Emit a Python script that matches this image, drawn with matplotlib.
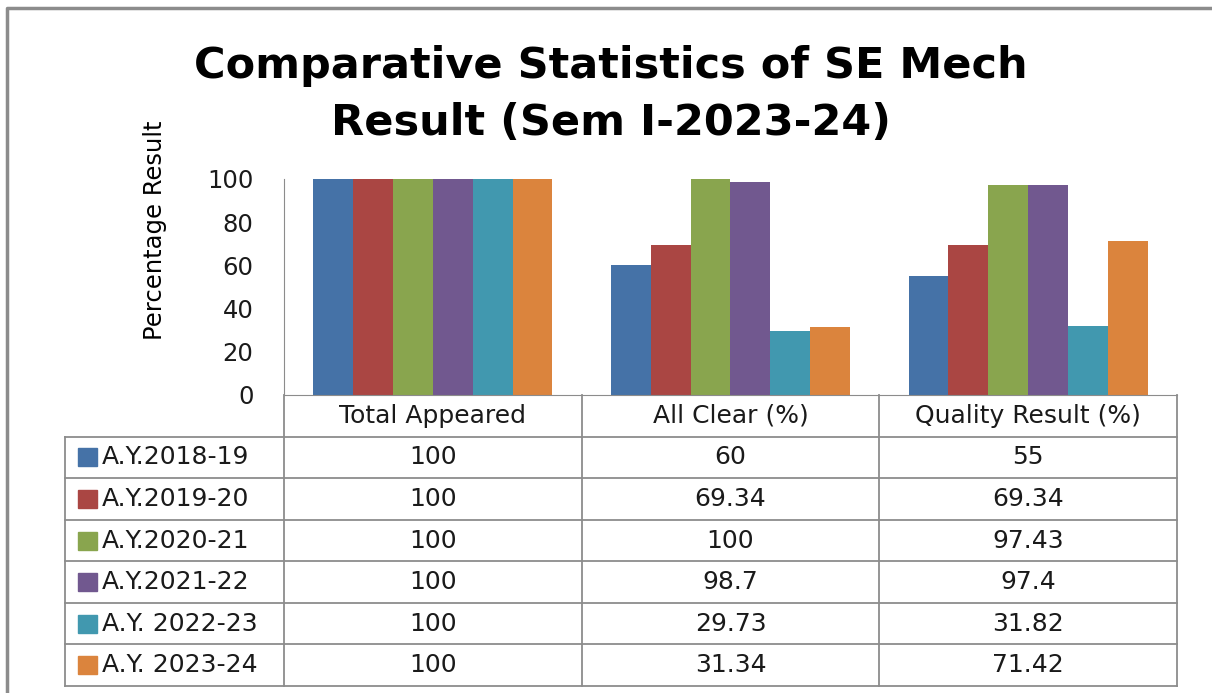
import numpy as np
import matplotlib.pyplot as plt
from matplotlib.transforms import blended_transform_factory

# data
categories = ['Total Appeared', 'All Clear (%)', 'Quality Result (%)']
years = ['A.Y.2018-19', 'A.Y.2019-20', 'A.Y.2020-21', 'A.Y.2021-22',
         'A.Y. 2022-23', 'A.Y. 2023-24']
total_appeared = [100, 100, 100, 100, 100, 100]
all_clear = [60, 69.34, 100, 98.7, 29.73, 31.34]
quality_result = [55, 69.34, 97.43, 97.4, 31.82, 71.42]
y_ticks = [0, 20, 40, 60, 80, 100]

colors = ['#4572A7', '#AA4643', '#89A54E', '#71588F', '#4198AF', '#DB843D']
grid_col = '#8C8C8C'

W, H = 1212, 693
fig = plt.figure(figsize=(W / 100, H / 100), dpi=100)
fig.patch.set_facecolor('white')

# overlay in pixel coordinates for the title, border and table layout
ax_t = fig.add_axes([0, 0, 1, 1])
ax_t.set_xlim(0, W)
ax_t.set_ylim(H, 0)
ax_t.axis('off')

# plot area
x0, x1, ytop, ybot = 284, 1177, 179, 395
ax = fig.add_axes([x0 / W, (H - ybot) / H, (x1 - x0) / W, (ybot - ytop) / H])
ax.patch.set_alpha(0)

x = np.arange(len(categories)) + 0.5
bw = 0.134
for i, yr in enumerate(years):
    vals = [total_appeared[i], all_clear[i], quality_result[i]]
    ax.bar(x + (i - 2.5) * bw, vals, bw, color=colors[i], label=yr, zorder=2)

ax.set_xlim(0, len(categories))
ax.set_ylim(0, 100)
ax.set_yticks(y_ticks)
ax.set_xticks([])
ax.tick_params(axis='y', length=0, pad=22, labelsize=17.5)
for lab in ax.get_yticklabels():
    lab.set_fontfamily('DejaVu Sans')
    lab.set_color('#1a1a1a')
for s in ['top', 'right']:
    ax.spines[s].set_visible(False)
ax.spines['left'].set_color(grid_col)
ax.spines['bottom'].set_color(grid_col)

# title
ax_t.text(611, 78, 'Comparative Statistics of SE Mech', ha='center', va='baseline',
          fontsize=31, fontweight='bold', family='DejaVu Sans')
ax_t.text(611, 135, 'Result (Sem I-2023-24)', ha='center', va='baseline',
          fontsize=31, fontweight='bold', family='DejaVu Sans')

# y label
ax_t.text(155, 230, 'Percentage Result', rotation=90, ha='center', va='center',
          fontsize=17.5, family=['Liberation Sans Narrow', 'DejaVu Sans'])

# data table below the plot
tr = blended_transform_factory(ax.transData, ax_t.transData)
row_h = (686 - ybot) / 7
rows_y = [ybot + k * row_h for k in range(8)]

# vertical lines of value columns
for c in range(len(categories) + 1):
    ax_t.plot([c, c], [ybot, rows_y[-1]], color=grid_col, lw=1.3, transform=tr,
              clip_on=False)
# horizontal lines
for k in range(1, 8):
    ax_t.plot([65, x1], [rows_y[k], rows_y[k]], color=grid_col, lw=1.3)
ax_t.plot([65, 65], [rows_y[1], rows_y[-1]], color=grid_col, lw=1.3)

tfont = dict(family='DejaVu Sans', fontsize=18, color='#1a1a1a')
for c, cat in enumerate(categories):
    ax_t.text(c + 0.5, (rows_y[0] + rows_y[1]) / 2, cat, ha='center', va='center',
              transform=tr, **tfont)

series = [total_appeared, all_clear, quality_result]
for i, yr in enumerate(years):
    yc = (rows_y[i + 1] + rows_y[i + 2]) / 2
    ax_t.add_patch(plt.Rectangle((78, yc - 9), 19, 18, color=colors[i]))
    ax_t.text(102, yc, yr, ha='left', va='center', **tfont)
    for c, s in enumerate(series):
        ax_t.text(c + 0.5, yc, f'{s[i]:g}', ha='center', va='center',
                  transform=tr, **tfont)

# outer border of the chart
ax_t.plot([7, 7, W], [H, 8, 8], color='#8C8C8C', lw=2.5)

fig.savefig('out.png', dpi=100)
